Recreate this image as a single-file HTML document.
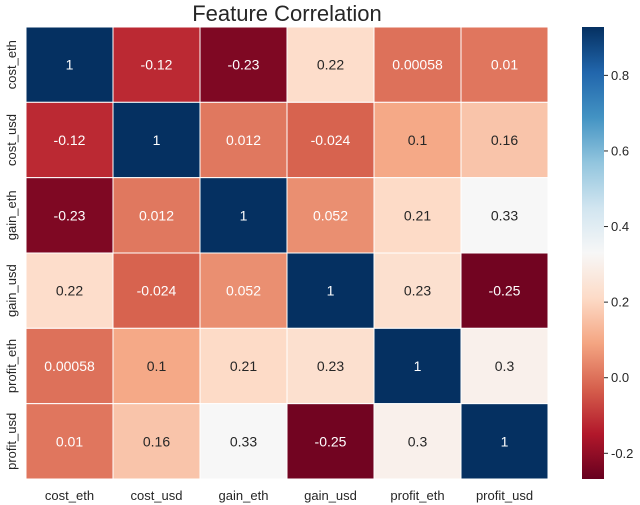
<!DOCTYPE html>
<html><head><meta charset="utf-8"><style>
body{margin:0;background:#fff;}
svg{display:block;font-family:"Liberation Sans",Arial,sans-serif;}
</style></head><body>
<svg id="chart" width="640" height="505" viewBox="0 0 640 505">
<text x="287" y="21" font-size="22" text-anchor="middle" fill="#262626">Feature Correlation</text>
<g id="cells"></g><g id="xlab"></g><g id="ylab"></g><g id="cbar"></g>
</svg>
<script>
const labels = ["cost_eth","cost_usd","gain_eth","gain_usd","profit_eth","profit_usd"];
const row0 = [1,-0.12,-0.23,0.22,0.00058,0.01];
const row1 = [-0.12,1,0.012,-0.024,0.1,0.16];
const row2 = [-0.23,0.012,1,0.052,0.21,0.33];
const row3 = [0.22,-0.024,0.052,1,0.23,-0.25];
const row4 = [0.00058,0.1,0.21,0.23,1,0.3];
const row5 = [0.01,0.16,0.33,-0.25,0.3,1];
const cbTicks = [0.8,0.6,0.4,0.2,0.0,-0.2];
const cbTickLabels = ["0.8","0.6","0.4","0.2","0.0","-0.2"];
const vmin = -0.268, vmax = 0.928;
const rows = [row0,row1,row2,row3,row4,row5];

const NS="http://www.w3.org/2000/svg";
const L=26,T=27,W=522,H=452;
const cw=W/labels.length, ch=H/labels.length;
const stops=["#67001f","#b2182b","#d6604d","#f4a582","#fddbc7","#f7f7f7","#d1e5f0","#92c5de","#4393c3","#2166ac","#053061"].map(h=>[parseInt(h.slice(1,3),16),parseInt(h.slice(3,5),16),parseInt(h.slice(5,7),16)]);
function cmap(v){let t=(v-vmin)/(vmax-vmin);t=Math.max(0,Math.min(1,t));const p=t*10,i=Math.min(9,Math.floor(p)),f=p-i;const a=stops[i],b=stops[i+1];return a.map((c,k)=>Math.round(c+(b[k]-c)*f));}
function rgb(c){return `rgb(${c[0]},${c[1]},${c[2]})`;}
function lum(c){const s=c.map(x=>{x/=255;return x<=0.03928?x/12.92:Math.pow((x+0.055)/1.055,2.4)});return 0.2126*s[0]+0.7152*s[1]+0.0722*s[2];}
function xs(i){return L+i*cw;} function ys(j){return T+j*ch;}
function cbY(v){return T+(vmax-v)/(vmax-vmin)*H;}
function mk(tag,attrs,parent){const e=document.createElementNS(NS,tag);for(const k in attrs)e.setAttribute(k,attrs[k]);parent.appendChild(e);return e;}
const gc=document.getElementById('cells');
rows.forEach((r,j)=>r.forEach((v,i)=>{
  const c=cmap(v);
  const rect=mk('rect',{x:xs(i),y:ys(j),width:cw,height:ch,fill:rgb(c),stroke:'#fff','stroke-width':1},gc);
  
  
  const t=mk('text',{x:xs(i)+cw/2,y:ys(j)+ch/2+5,'font-size':14,'text-anchor':'middle',fill:lum(c)>0.408?'#262626':'#fff'},gc);
  t.textContent=String(v);
  
  
}));
const gx=document.getElementById('xlab'),gy=document.getElementById('ylab');
labels.forEach((l,i)=>{
  const t=mk('text',{x:xs(i)+cw/2,y:500,'font-size':13,'text-anchor':'middle',fill:'#262626'},gx);
  t.textContent=l;
  
  
  const yc=ys(i)+ch/2;
  const u=mk('text',{x:16,y:yc,'font-size':13,'text-anchor':'middle',fill:'#262626',transform:`rotate(-90 16 ${yc})`},gy);
  u.textContent=l;
  
  
});
const gb=document.getElementById('cbar');
const defs=mk('defs',{},gb);
const lg=mk('linearGradient',{id:'cg',x1:0,y1:1,x2:0,y2:0},defs);
stops.forEach((s,k)=>mk('stop',{offset:k/10,'stop-color':rgb(s)},lg));
const cb=mk('rect',{x:582,y:T,width:22,height:H,fill:'url(#cg)'},gb);


cbTicks.forEach((v,k)=>{
  const y=cbY(v);
  mk('line',{x1:604,x2:608,y1:y,y2:y,stroke:'#262626','stroke-width':1},gb);
  const t=mk('text',{x:611,y:y+4.5,'font-size':13,fill:'#262626'},gb);
  t.textContent=cbTickLabels[k];
  
  
});
</script>
</body></html>
